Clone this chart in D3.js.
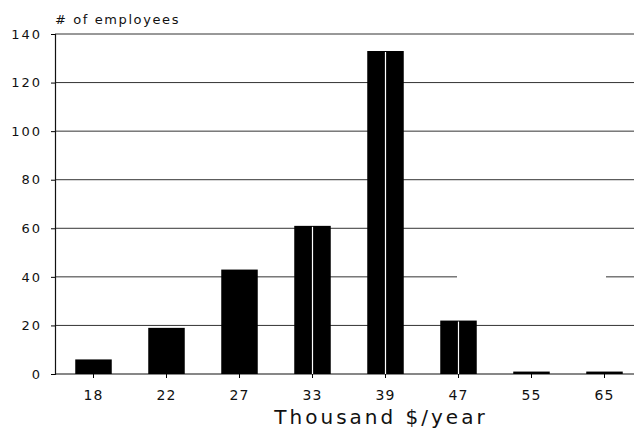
<!DOCTYPE html>
<html>
<head>
<meta charset="utf-8">
<script src="https://cdn.jsdelivr.net/npm/d3@7"></script>
<style>
  body { margin: 0; background: #fff; }
  text { font-family: "DejaVu Sans", sans-serif; fill: #111; }
</style>
</head>
<body>
<svg></svg>
<script>
var width = 634;
var height = 431;

// salary bands (thousand $/year) and head counts
var salaries = ['18', '22', '27', '33', '39', '47', '55', '65'];
var employees = [6, 19, 43, 61, 133, 22, 1, 1];
var yTicks = [0, 20, 40, 60, 80, 100, 120, 140];

var svg = d3.select('svg')
    .attr("width", width)
    .attr("height", height);

var x = d3.scaleBand()
    .domain(salaries)
    .range([57, 641])
    .paddingInner(0.5)
    .paddingOuter(0.25);

var y = d3.scaleLinear()
    .domain([0, 140])
    .range([374, 34]);

// grid lines (the 40 line has a break in the original print)
var grid = svg.append('g');
yTicks.forEach(function(t) {
    if (t === 0) return;
    if (t === 40) {
        grid.append('line').attr("x1", 55).attr("x2", 457)
            .attr("y1", y(t)).attr("y2", y(t));
        grid.append('line').attr("x1", 606).attr("x2", 634)
            .attr("y1", y(t)).attr("y2", y(t));
    } else {
        grid.append('line').attr("x1", 55).attr("x2", 634)
            .attr("y1", y(t)).attr("y2", y(t));
    }
});
grid.selectAll('line').attr("stroke", '#333').attr("stroke-width", 1);

// baseline
svg.append('line')
    .attr("x1", 55).attr("x2", 634)
    .attr("y1", y(0)).attr("y2", y(0))
    .attr("stroke", '#111').attr("stroke-width", 1.2);

// y axis
var yAxis = svg.append('g')
    .attr("transform", "translate(55,0)")
    .call(d3.axisLeft(y).tickValues(yTicks).tickSize(4).tickPadding(9));
yAxis.select('.domain').attr("stroke", '#111').attr("stroke-width", 1.2);
yAxis.selectAll('text')
    .style("font-size", "13px")
    .style("letter-spacing", "2px")
    .attr("fill", '#111');

// x axis
var xAxis = svg.append('g')
    .attr("transform", "translate(0," + y(0) + ")")
    .call(d3.axisBottom(x).tickSize(4).tickPadding(12));
xAxis.select('.domain').remove();
xAxis.selectAll('text')
    .style("font-size", "14px")
    .style("letter-spacing", "1px")
    .attr("fill", '#111');

// bars
svg.append('g').selectAll('rect')
    .data(employees)
    .enter()
    .append('rect')
    .attr("x", function(d, i) { return x(salaries[i]); })
    .attr("y", function(d) { return y(d); })
    .attr("width", x.bandwidth())
    .attr("height", function(d) { return y(0) - y(d); })
    .attr("fill", '#000');

// white split line in the wider-printed bars
svg.append('g').selectAll('line')
    .data(employees.slice(3, 6))
    .enter()
    .append('line')
    .attr("x1", function(d, i) { return x(salaries[i + 3]) + x.bandwidth() / 2; })
    .attr("x2", function(d, i) { return x(salaries[i + 3]) + x.bandwidth() / 2; })
    .attr("y1", function(d) { return y(d) + 1; })
    .attr("y2", y(0))
    .attr("stroke", '#fff')
    .attr("stroke-width", 1.2);

// labels
svg.append('text')
    .attr("x", 55)
    .attr("y", 24)
    .style("font-size", "13px")
    .style("letter-spacing", "1.6px")
    .text('# of employees');

svg.append('text')
    .attr("x", 381)
    .attr("y", 424)
    .attr("text-anchor", 'middle')
    .style("font-size", "20px")
    .style("letter-spacing", "3px")
    .text('Thousand $/year');
</script>
</body>
</html>
